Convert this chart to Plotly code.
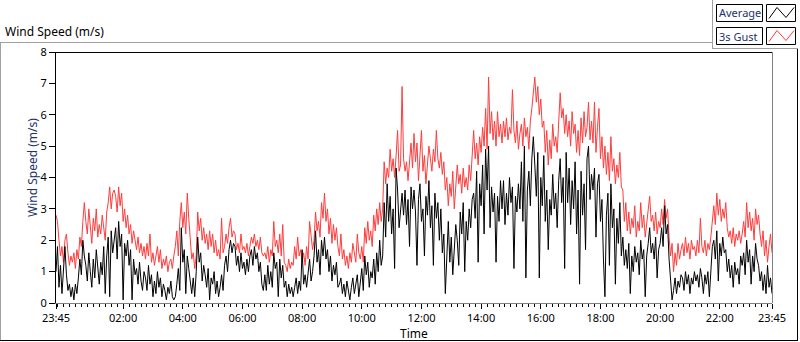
import plotly.graph_objects as go
import pandas as pd

# ---- data (3-minute samples from 23:45 to 23:45 next day, one row per hour) ----
start_time = "2024-01-01 23:45"
sample_minutes = 3

gust = [
    2.8, 2.6, 2.0, 1.5, 1.8, 1.3, 2.0, 2.2, 1.6, 1.2, 1.5, 1.3, 1.6, 1.1, 1.7, 1.4, 2.1, 1.8, 2.6, 3.2,
    2.6, 2.2, 3.0, 2.4, 1.9, 2.7, 2.3, 3.0, 2.1, 2.5, 2.2, 2.8, 2.4, 2.0, 2.9, 3.2, 3.7, 3.0, 3.5, 3.6,
    3.4, 2.9, 3.7, 3.1, 3.5, 2.6, 3.0, 2.4, 2.8, 2.2, 2.5, 1.9, 2.3, 2.0, 1.7, 2.1, 1.6, 1.9, 1.5, 1.8,
    1.4, 1.9, 1.5, 2.2, 1.3, 1.6, 1.2, 1.5, 1.8, 1.3, 1.7, 1.1, 1.4, 1.2, 1.5, 1.0, 1.3, 1.4, 1.1, 1.5,
    1.8, 2.3, 1.5, 2.6, 3.2, 2.4, 2.9, 2.2, 3.5, 2.7, 1.9, 1.4, 1.6, 1.1, 1.5, 2.9, 2.3, 2.7, 2.0, 2.4,
    1.9, 2.2, 1.7, 2.3, 1.8, 2.2, 1.6, 2.0, 1.5, 1.7, 1.4, 2.7, 1.6, 1.8, 2.2, 1.9, 2.4, 2.7, 2.1, 2.3,
    2.2, 1.7, 1.9, 1.6, 2.2, 1.7, 1.8, 1.6, 1.9, 1.5, 1.8, 2.1, 1.9, 2.2, 1.8, 2.0, 1.7, 2.1, 1.6, 1.5,
    1.6, 1.4, 1.8, 1.3, 1.7, 1.5, 2.6, 1.8, 2.0, 1.6, 2.2, 1.5, 2.5, 1.3, 1.2, 1.0, 1.4, 1.1, 1.3, 1.2,
    1.8, 1.4, 2.1, 1.5, 1.7, 1.3, 1.6, 1.2, 1.8, 1.4, 2.6, 2.2, 1.7, 2.0, 2.9, 2.3, 2.6, 2.1, 3.2, 2.7,
    3.5, 2.6, 3.0, 2.2, 2.7, 1.9, 2.5, 2.0, 2.4, 1.8, 1.5, 2.2, 1.4, 1.7, 1.2, 1.5, 1.1, 1.6, 1.3, 1.9,
    1.5, 1.3, 2.2, 1.6, 1.4, 1.8, 1.3, 2.4, 1.9, 2.6, 2.0, 2.3, 1.8, 2.8, 2.3, 3.0, 2.5, 3.2, 2.6, 3.0,
    4.5, 3.8, 4.3, 4.0, 4.9, 4.2, 4.6, 4.0, 4.7, 5.5, 4.2, 4.4, 6.9, 4.6, 4.2, 4.5, 3.9, 4.4, 5.1, 4.3,
    5.4, 4.5, 5.1, 3.9, 4.8, 5.5, 4.2, 4.7, 3.8, 4.4, 5.0, 4.6, 4.2, 4.9, 4.5, 5.5, 4.6, 4.3, 4.8, 4.1,
    4.5, 3.6, 4.0, 3.1, 3.8, 3.4, 4.2, 3.0, 3.6, 4.4, 3.8, 4.1, 3.5, 4.3, 3.7, 4.0, 3.6, 4.4, 3.9, 4.6,
    5.5, 4.6, 5.1, 4.4, 5.3, 4.8, 5.6, 5.0, 6.2, 4.9, 7.2, 5.4, 6.1, 5.2, 5.8, 5.0, 6.1, 5.3, 5.7, 5.1,
    5.8, 5.3, 5.9, 5.2, 5.6, 5.4, 6.8, 5.5, 5.1, 5.8, 4.9, 5.4, 5.7, 5.0, 5.9, 5.3, 5.6, 4.9, 5.8, 6.2,
    6.6, 7.2, 6.4, 6.9, 6.0, 6.5, 5.6, 5.8, 4.8, 5.5, 4.4, 5.2, 4.6, 5.7, 5.0, 5.3, 4.8, 5.6, 6.7, 5.9,
    6.2, 5.4, 6.0, 5.3, 5.8, 5.0, 6.1, 5.4, 5.7, 4.8, 5.5, 4.7, 5.9, 5.1, 6.1, 5.3, 5.6, 6.4, 5.2, 5.8,
    5.1, 6.4, 4.8, 5.6, 6.2, 4.6, 5.3, 4.3, 5.0, 4.1, 4.8, 3.9, 5.3, 4.2, 4.6, 3.8, 4.4, 4.0, 4.8, 3.7,
    3.6, 2.6, 3.2, 2.3, 2.9, 2.2, 2.7, 2.4, 3.1, 2.1, 2.6, 2.3, 3.2, 2.4, 2.8, 2.1, 2.5, 2.9, 3.4, 2.6,
    2.8, 2.3, 2.9, 2.2, 2.6, 2.4, 3.0, 2.5, 3.3, 2.7, 3.0, 2.1, 1.5, 1.9, 1.0, 1.6, 1.2, 1.9, 1.4, 1.7,
    1.9, 1.5, 2.1, 1.6, 1.9, 1.4, 2.0, 1.7, 1.8, 1.5, 2.0, 1.6, 2.7, 1.8, 1.6, 2.0, 1.5, 1.9, 1.7, 2.1,
    2.7, 3.1, 2.5, 3.5, 2.8, 3.3, 2.6, 3.0, 2.7, 3.2, 2.4, 2.1, 2.3, 1.9, 2.4, 1.8, 2.2, 2.0, 2.3, 1.9,
    2.2, 2.6, 2.1, 3.2, 2.4, 2.9, 2.3, 2.7, 2.0, 3.0, 2.5, 2.8, 2.2, 1.8, 2.3, 1.5, 2.0, 1.3, 1.8, 2.2,
    1.6,
]

average = [
    1.0, 1.8, 0.5, 1.2, 0.3, 1.0, 1.8, 0.9, 0.4, 0.6, 0.2, 0.5, 0.1, 0.6, 0.3, 0.8, 1.4, 0.9, 2.0, 1.5,
    1.2, 0.7, 1.6, 1.0, 0.5, 1.4, 0.8, 1.7, 1.1, 0.6, 1.3, 0.9, 1.8, 0.3, 1.5, 2.1, 0.2, 2.3, 1.6, 2.0,
    2.4, 1.4, 2.6, 1.8, 2.2, 0.1, 1.9, 1.5, 2.0, 1.2, 1.7, 0.1, 1.4, 0.9, 1.1, 0.6, 1.3, 0.7, 0.4, 1.0,
    0.8, 0.4, 1.2, 0.6, 0.9, 0.2, 0.7, 0.3, 1.0, 0.5, 0.8, 0.2, 0.6, 0.4, 0.1, 0.5, 0.3, 0.7, 0.2, 0.1,
    0.2, 0.6, 1.1, 0.4, 2.4, 1.3, 1.7, 0.3, 1.5, 1.1, 0.6, 0.3, 0.8, 0.2, 1.0, 2.1, 1.3, 1.6, 0.7, 1.2,
    0.9, 0.5, 1.1, 0.1, 0.8, 0.6, 1.0, 0.3, 0.7, 0.2, 0.5, 0.9, 0.4, 1.2, 1.5, 1.0, 1.7, 2.0, 1.6, 1.9,
    1.8, 1.2, 1.5, 1.0, 1.6, 1.1, 1.3, 0.9, 1.4, 1.0, 1.5, 1.7, 1.2, 1.8, 1.4, 1.6, 1.0, 1.3, 0.6, 0.4,
    0.9, 0.4, 1.2, 0.6, 1.0, 0.5, 1.6, 1.1, 1.3, 0.2, 1.4, 0.8, 1.2, 0.5, 0.7, 0.2, 0.6, 0.3, 0.5, 0.2,
    0.5, 0.8, 0.3, 0.7, 0.4, 1.7, 0.6, 0.9, 0.5, 1.1, 1.4, 0.7, 1.0, 1.5, 2.3, 1.3, 1.7, 0.9, 2.0, 1.5,
    2.1, 1.4, 1.7, 1.0, 1.5, 0.7, 1.2, 0.9, 1.3, 0.5, 0.6, 0.8, 0.3, 0.6, 0.2, 0.7, 0.4, 0.1, 0.5, 0.8,
    0.3, 0.6, 0.9, 0.2, 0.7, 1.1, 0.4, 1.5, 0.9, 1.3, 0.5, 1.0, 0.8, 1.4, 0.6, 1.6, 1.0, 2.0, 1.2, 1.5,
    3.2, 2.1, 3.8, 2.6, 3.4, 2.2, 3.0, 1.1, 4.3, 3.6, 2.4, 3.1, 3.5, 2.8, 3.6, 2.5, 3.3, 1.8, 3.7, 3.0,
    3.6, 2.9, 1.2, 3.3, 3.8, 2.6, 3.0, 1.5, 3.4, 2.8, 3.9, 2.4, 3.1, 1.2, 3.5, 2.7, 3.2, 2.0, 3.0, 1.6,
    2.2, 0.3, 1.8, 2.6, 1.3, 2.1, 0.9, 1.6, 2.5, 2.0, 1.2, 2.9, 2.2, 3.2, 1.0, 2.6, 2.0, 3.0, 2.4, 3.3,
    3.5, 2.7, 4.2, 1.3, 3.8, 3.1, 4.4, 2.2, 4.9, 3.6, 5.0, 2.4, 3.7, 2.9, 3.5, 1.3, 3.4, 2.6, 3.9, 3.0,
    3.9, 2.5, 3.5, 2.8, 4.0, 3.2, 3.7, 1.1, 3.4, 2.9, 3.8, 3.0, 4.5, 2.6, 5.0, 0.8, 3.6, 4.2, 3.1, 4.6,
    5.3, 4.4, 3.4, 4.8, 0.8, 4.0, 3.1, 4.7, 2.6, 3.6, 1.7, 3.3, 2.8, 4.1, 3.0, 3.5, 2.4, 3.9, 4.6, 3.2,
    4.0, 1.1, 4.8, 3.2, 4.3, 2.5, 3.9, 3.0, 4.5, 2.2, 3.6, 0.6, 4.2, 2.8, 3.8, 1.7, 4.6, 5.0, 3.3, 4.1,
    3.6, 4.3, 2.1, 3.8, 4.1, 2.6, 3.3, 1.4, 0.2, 2.8, 3.5, 1.2, 3.8, 2.4, 3.0, 0.6, 2.7, 1.9, 3.2, 1.5,
    2.1, 1.2, 1.7, 1.1, 1.9, 0.3, 1.5, 1.0, 1.8, 1.3, 1.6, 0.9, 2.0, 1.4, 1.7, 0.2, 1.5, 1.9, 2.4, 1.6,
    1.9, 1.4, 2.1, 0.8, 1.7, 1.9, 2.4, 1.8, 3.1, 2.2, 2.5, 1.4, 0.6, 0.1, 0.4, 0.8, 0.3, 0.7, 0.5, 0.9,
    0.8, 0.4, 1.0, 0.6, 0.9, 0.3, 0.8, 0.6, 1.0, 0.7, 0.9, 0.5, 1.1, 0.8, 0.3, 0.9, 0.6, 1.0, 0.2, 1.2,
    1.8, 2.0, 1.4, 2.3, 0.7, 1.9, 1.5, 2.1, 1.6, 1.7, 1.0, 1.4, 0.8, 1.2, 0.5, 1.3, 0.9, 1.1, 0.6, 1.5,
    1.2, 1.6, 0.9, 2.0, 1.3, 1.7, 0.6, 1.5, 1.0, 1.9, 1.4, 1.2, 0.7, 1.0, 0.4, 0.9, 0.3, 1.2, 0.5, 0.8,
    0.3,
]

tick_times = ["2024-01-01 23:45", "2024-01-02 02:00", "2024-01-02 04:00", "2024-01-02 06:00",
              "2024-01-02 08:00", "2024-01-02 10:00", "2024-01-02 12:00", "2024-01-02 14:00",
              "2024-01-02 16:00", "2024-01-02 18:00", "2024-01-02 20:00", "2024-01-02 22:00",
              "2024-01-02 23:45"]
tick_labels = ["23:45", "02:00", "04:00", "06:00", "08:00", "10:00", "12:00", "14:00",
               "16:00", "18:00", "20:00", "22:00", "23:45"]

times = pd.date_range(start_time, periods=len(gust), freq=f"{sample_minutes}min")

# ---- layout geometry (pixels) ----
W, H = 800, 342
L, R, T, B = 56, 28, 52, 39
PW, PH = W - L - R, H - T - B

def px(x):
    return (x - L) / PW

def py(y):
    return (H - B - y) / PH

FONT = "Noto Sans"
NAVY = "#22336b"

fig = go.Figure()
fig.add_trace(go.Scatter(x=times, y=gust, mode="lines", name="3s Gust",
                         line=dict(color="#ff3c3c", width=1), showlegend=False))
fig.add_trace(go.Scatter(x=times, y=average, mode="lines", name="Average",
                         line=dict(color="#000000", width=1), showlegend=False))

fig.update_layout(
    width=W, height=H,
    margin=dict(l=L, r=R, t=T, b=B, pad=0),
    paper_bgcolor="white", plot_bgcolor="white",
    font=dict(family=FONT, size=11, color="#000000"),
    showlegend=False,
)
fig.update_xaxes(
    type="date", automargin=False,
    range=[tick_times[0], tick_times[-1]],
    tickvals=tick_times, ticktext=tick_labels,
    ticks="outside", ticklen=5, tickcolor="#000000", tickwidth=1,
    minor=dict(ticks="outside", ticklen=3, tickcolor="#000000",
               dtick=12 * 60 * 1000, tick0="2024-01-02 00:00"),
    showgrid=False, zeroline=False,
    showline=True, linecolor="#808080", linewidth=1,
    tickfont=dict(size=11, color="#000000"),
    ticklabelstandoff=0,
    fixedrange=True,
)
fig.update_yaxes(
    automargin=False,
    range=[0, 8], dtick=1, tick0=0,
    ticks="outside", ticklen=6, tickcolor="#000000", tickwidth=1,
    showgrid=False, zeroline=False,
    showline=True, linecolor="#000000", linewidth=1,
    tickfont=dict(size=11, color="#000000"),
    fixedrange=True,
)

shapes = []
def line(x0, y0, x1, y1, color, width=1):
    shapes.append(dict(type="line", xref="paper", yref="paper",
                       x0=px(x0), y0=py(y0), x1=px(x1), y1=py(y1),
                       line=dict(color=color, width=width)))

# plot-area border: top & right
line(56, 52.5, 772, 52.5, "#000000")
line(772.5, 52, 772.5, 303, "#808080")
# outer frame
line(0, 42.5, 712, 42.5, "#a0a0a0")
line(0.5, 42, 0.5, 341, "#a0a0a0")
line(797.5, 49, 797.5, 341, "#000000")
line(0, 340.5, 798, 340.5, "#000000")
# legend panel
line(712.5, 0, 712.5, 49, "#a0a0a0")
line(712, 48.5, 798, 48.5, "#a0a0a0")

def rect(x0, y0, x1, y1):
    shapes.append(dict(type="rect", xref="paper", yref="paper",
                       x0=px(x0), y0=py(y0), x1=px(x1), y1=py(y1),
                       line=dict(color="#000000", width=1), fillcolor="white"))

def zig(x0, y0, color):
    pts = [(x0 + 2, y0 + 14), (x0 + 10, y0 + 3), (x0 + 19, y0 + 13), (x0 + 27, y0 + 3)]
    path = "M " + " L ".join(f"{px(a)},{py(b)}" for a, b in pts)
    shapes.append(dict(type="path", xref="paper", yref="paper", path=path,
                       line=dict(color=color, width=1)))

legend_items = [("Average", "#000000", 4.5), ("3s Gust", "#ff3c3c", 27.5)]
annotations = []
for label, color, y0 in legend_items:
    rect(716.5, y0, 762.5, y0 + 17)
    rect(766.5, y0, 795.5, y0 + 17)
    zig(767, y0, color)
    annotations.append(dict(text=label, xref="paper", yref="paper",
                            x=px(717), y=py(y0 + 8.5), xanchor="left", yanchor="middle",
                            showarrow=False, font=dict(size=11, color=NAVY)))

annotations.append(dict(text="Wind Speed (m/s)", xref="paper", yref="paper",
                        x=px(3), y=py(31), xanchor="left", yanchor="middle",
                        showarrow=False, font=dict(size=12, color="#000000")))
annotations.append(dict(text="Wind Speed (m/s)", xref="paper", yref="paper",
                        x=px(32), y=py(168), xanchor="center", yanchor="middle",
                        textangle=-90, showarrow=False, font=dict(size=12, color=NAVY)))
annotations.append(dict(text="Time", xref="paper", yref="paper",
                        x=px(414), y=py(333), xanchor="center", yanchor="middle",
                        showarrow=False, font=dict(size=12, color="#000000")))

fig.update_layout(shapes=shapes, annotations=annotations)
fig.write_html("out.html", config={"displayModeBar": False},
               post_script="document.body.style.margin='0px';")
